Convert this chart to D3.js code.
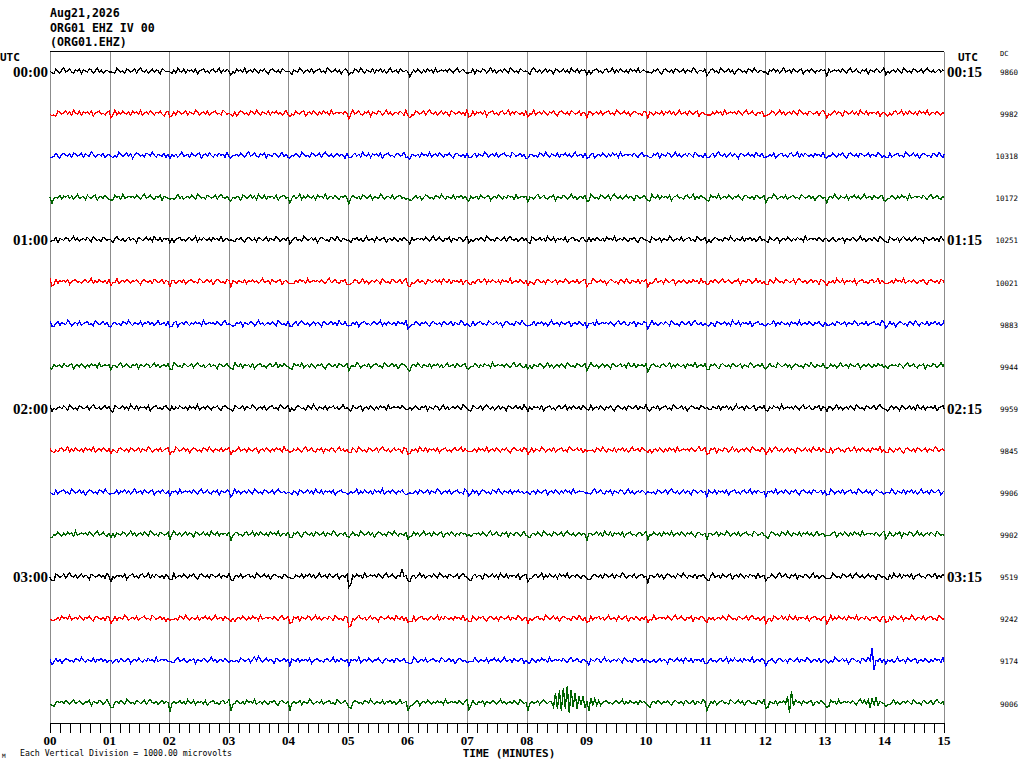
<!DOCTYPE html>
<html>
<head>
<meta charset="utf-8">
<script src="https://cdn.jsdelivr.net/npm/d3@7"></script>
<style>
  body { margin: 0; background: #fff; }
  svg { display: block; }
  .mono { font-family: "DejaVu Sans Mono", monospace; }
  .serif { font-family: "Liberation Serif", serif; font-weight: bold; }
</style>
</head>
<body>
<svg id="chart" width="1024" height="768"></svg>
<script>
// header / labels
var headerLines = ["Aug21,2026", "ORG01 EHZ IV 00", "(ORG01.EHZ)"];
var hourLabelsLeft = ["00:00", "01:00", "02:00", "03:00"];
var hourLabelsRight = ["00:15", "01:15", "02:15", "03:15"];
var minuteLabels = ["00","01","02","03","04","05","06","07","08","09","10","11","12","13","14","15"];

// DC offset per trace (counts)
var dcValues = [9860, 9982, 10318, 10172, 10251, 10021, 9883, 9944,
                9959, 9845, 9906, 9902, 9519, 9242, 9174, 9006];

// size of the small dip just after each minute mark, per trace (microvolts)
var minuteDip = [70, 90, 70, 90, 60, 100, 80, 80, 60, 80, 70, 80, 110, 100, 80, 140];

// background noise, read as steps of noiseStep microvolts
var noiseStep = 24;
var noise = [
  0,1,-1,2,0,-2,1,3,-1,0,2,-1,-2,1,0,2,-3,1,0,-1,2,1,-2,0,3,-1,1,-2,0,1,
  -1,2,0,-2,3,1,-1,0,-2,2,1,-1,0,2,-2,1,3,0,-1,1,-2,0,2,-1,1,0,-3,2,1,-1,
  0,2,-1,1,-2,3,0,-1,2,-2,1,0,1,-1,2,-3,0,1,2,-1,0,-2,1,2,-1,0,3,-2,1,-1,
  2,0,-1,1,-2,2,0,1,-1,3,-2,0,1,-1,2,0,-2,1,0,2,-1,-3,1,2,0,-1,1,-2,2,1,
  -1,0,2,-2,1,0,-1,3,1,-2,0,1,-1,2,-2,0,1,2,-1,0,-2,3,1,-1,0,2,-1,1,-3,0,
  2,1,-1,0,-2,2,1,-1,3,0,-2,1,0,-1,2,-2,1,0,2,-1,1,-2,0,3,-1,0,1,-2,2,0,
  -1,1,2,-3,0,1,-1,2,0,-2,1,-1,2,0,1,-2,3,-1,0,1
];

// visible events: trace index, start minute, samples (microvolts)
var events = [
  {trace: 15, start: 8.43, values: [60,-110,170,-130,260,-210,420,-190,360,-230,300,-160,240,-170,190,-120,150,-100,120,-80,90,-60,70,-40]},
  {trace: 15, start: 12.38, values: [120,-200,280,-150,80]},
  {trace: 15, start: 13.65, values: [60,-80,90,-70,80,-60,70]},
  {trace: 14, start: 13.78, values: [330,-250]},
  {trace: 14, start: 3.5, values: [120]},
  {trace: 12, start: 5.02, values: [-150,-80]},
  {trace: 12, start: 5.9, values: [130,60]},
  {trace: 13, start: 5.02, values: [-80,-120,-60]}
];

var traceColors = ["#000000", "#ff0000", "#0000ff", "#006400"];
var sampleStep = 0.033; // minutes
var microvoltsPerDivision = 1000;

var svg = d3.select("#chart");
var plotLeft = 50, plotRight = 944, plotTop = 51, axisY = 723;
var firstTrace = 71, traceGap = 42.1;

var x = d3.scaleLinear().domain([0, 15]).range([plotLeft, plotRight]);
var yTrace = d3.scaleLinear().domain([0, 15]).range([firstTrace, firstTrace + 15 * traceGap]);
var amp = d3.scaleLinear().domain([-microvoltsPerDivision, microvoltsPerDivision]).range([traceGap, -traceGap]);

// frame + grid
svg.append("line")
  .attr("x1", plotLeft).attr("x2", plotRight).attr("y1", plotTop + 0.5).attr("y2", plotTop + 0.5)
  .attr("stroke", "#000");
svg.selectAll(".grid").data(d3.range(0, 16)).enter().append("line")
  .attr("class", "grid")
  .attr("x1", function(d){ return Math.round(x(d)) + 0.5; })
  .attr("x2", function(d){ return Math.round(x(d)) + 0.5; })
  .attr("y1", plotTop + 1).attr("y2", axisY)
  .attr("stroke", "#8c8c8c");

// traces
var nSamples = Math.round(15 / sampleStep);
var line = d3.line()
  .x(function(d){ return x(d.t); })
  .y(function(d){ return d.y; })
  .curve(d3.curveLinear);

dcValues.forEach(function(dc, i){
  var offset = (i * 53) % noise.length;
  var pts = [];
  for (var k = 0; k <= nSamples; k++) {
    var t = Math.min(15, k * sampleStep);
    var v = noise[(offset + k) % noise.length] * noiseStep;
    var frac = t - Math.floor(t);
    if (t < 15) {
      if (frac >= 0.005 && frac < 0.04) v -= minuteDip[i];
      else if (frac >= 0.04 && frac < 0.075) v -= minuteDip[i] / 2;
    }
    pts.push({t: t, v: v});
  }
  events.filter(function(e){ return e.trace === i; }).forEach(function(e){
    var k0 = Math.round(e.start / sampleStep);
    e.values.forEach(function(val, j){
      if (pts[k0 + j]) pts[k0 + j].v += val;
    });
  });
  var base = yTrace(i);
  pts.forEach(function(p){ p.y = base + amp(p.v); });

  svg.append("path")
    .datum(pts)
    .attr("d", line)
    .attr("fill", "none")
    .attr("stroke", traceColors[i % 4])
    .attr("stroke-width", 1.3)
    .attr("shape-rendering", "crispEdges");

  svg.append("text")
    .attr("class", "mono")
    .attr("x", 1018).attr("y", base + 4)
    .attr("text-anchor", "end")
    .attr("font-size", "7.5px")
    .text(dc);
});

// hour labels
hourLabelsLeft.forEach(function(lbl, h){
  svg.append("text").attr("class", "serif")
    .attr("x", 48).attr("y", yTrace(h * 4) + 6)
    .attr("text-anchor", "end").attr("font-size", "15px")
    .text(lbl);
});
hourLabelsRight.forEach(function(lbl, h){
  svg.append("text").attr("class", "serif")
    .attr("x", 947).attr("y", yTrace(h * 4) + 6)
    .attr("font-size", "15px")
    .text(lbl);
});

// header
headerLines.forEach(function(txt, i){
  svg.append("text").attr("class", "mono").attr("font-weight", "bold")
    .attr("x", 50).attr("y", 17 + i * 14.7)
    .attr("font-size", "11.6px")
    .text(txt);
});
svg.append("text").attr("class", "mono").attr("font-weight", "bold")
  .attr("x", 0).attr("y", 61).attr("font-size", "11px").text("UTC");
svg.append("text").attr("class", "mono").attr("font-weight", "bold")
  .attr("x", 958).attr("y", 61).attr("font-size", "11px").text("UTC");
svg.append("text").attr("class", "mono")
  .attr("x", 1000).attr("y", 56).attr("font-size", "7px").text("DC");

// bottom time axis
svg.append("line")
  .attr("x1", plotLeft).attr("x2", plotRight).attr("y1", axisY + 0.5).attr("y2", axisY + 0.5)
  .attr("stroke", "#000");
svg.selectAll(".tick").data(d3.range(0, 91)).enter().append("line")
  .attr("x1", function(d){ return Math.round(x(d / 6)) + 0.5; })
  .attr("x2", function(d){ return Math.round(x(d / 6)) + 0.5; })
  .attr("y1", axisY).attr("y2", axisY + 10)
  .attr("stroke", "#000");
svg.selectAll(".mlabel").data(minuteLabels).enter().append("text")
  .attr("class", "serif")
  .attr("x", function(d, i){ return x(i); })
  .attr("y", 745)
  .attr("text-anchor", "middle")
  .attr("font-size", "13px")
  .text(function(d){ return d; });

svg.append("text").attr("class", "mono").attr("font-weight", "bold")
  .attr("x", 509).attr("y", 757).attr("text-anchor", "middle")
  .attr("font-size", "11px").text("TIME (MINUTES)");
svg.append("text").attr("class", "mono")
  .attr("x", 20).attr("y", 756).attr("font-size", "8.2px")
  .text("Each Vertical Division = 1000.00 microvolts");
svg.append("text").attr("class", "mono")
  .attr("x", 2).attr("y", 758).attr("font-size", "6px")
  .text("M");
</script>
</body>
</html>
